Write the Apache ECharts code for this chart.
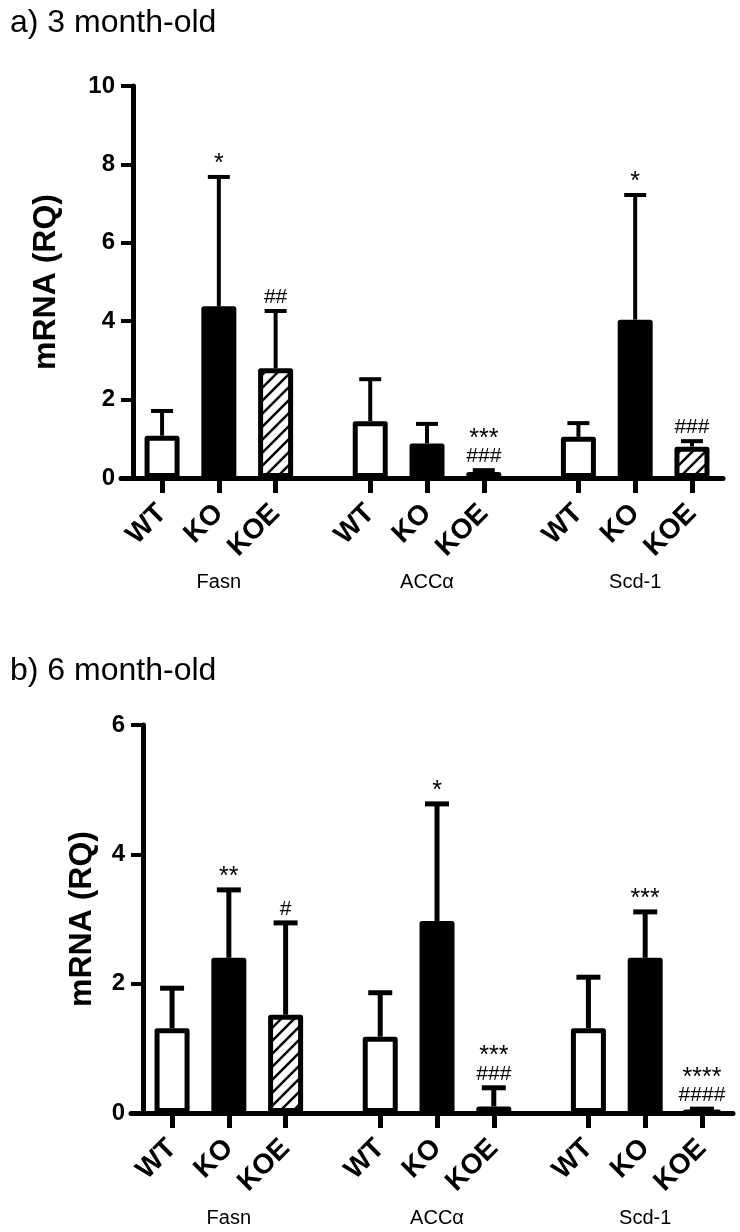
<!DOCTYPE html>
<html><head><meta charset="utf-8">
<script src="https://cdn.jsdelivr.net/npm/echarts@6/dist/echarts.min.js"></script>
<style>html,body{margin:0;padding:0;background:#fff}#c{width:740px;height:1232px}</style>
</head><body><div id="c"></div>
<script>
// ---------- data ----------
const genes = ['Fasn', 'ACCα', 'Scd-1'];
const groups = ['WT', 'KO', 'KOE'];
const titleA = 'a) 3 month-old';
const titleB = 'b) 6 month-old';
const yTitle = 'mRNA (RQ)';

// a) 3 month-old : mean and SD (upper error) per gene
const a_WT_mean  = [1.08, 1.45, 1.05];
const a_WT_sd    = [0.63, 1.07, 0.35];
const a_KO_mean  = [4.38, 0.88, 4.04];
const a_KO_sd    = [3.30, 0.50, 3.18];
const a_KOE_mean = [2.80, 0.15, 0.80];
const a_KOE_sd   = [1.46, 0.05, 0.14];
const a_WT_sig   = ['', '', ''];
const a_KO_sig   = ['*', '', '*'];
const a_KOE_sig  = ['##', '***\n###', '###'];
const a_yTicks   = [0, 2, 4, 6, 8, 10];

// b) 6 month-old
const b_WT_mean  = [1.31, 1.18, 1.31];
const b_WT_sd    = [0.62, 0.68, 0.79];
const b_KO_mean  = [2.40, 2.97, 2.40];
const b_KO_sd    = [1.05, 1.81, 0.71];
const b_KOE_mean = [1.52, 0.10, 0.03];
const b_KOE_sd   = [1.42, 0.29, 0.03];
const b_WT_sig   = ['', '', ''];
const b_KO_sig   = ['**', '*', '***'];
const b_KOE_sig  = ['#', '***\n###', '****\n####'];
const b_yTicks   = [0, 2, 4, 6];

// ---------- layout helpers ----------
const FONT = 'Arial, "Liberation Sans", Helvetica, sans-serif';
const BAR_STEP = 3, GENE_STEP = 11;          // slot units on the x value axis
const pos = (g, i) => g * GENE_STEP + i * BAR_STEP;
const X_MIN = -2.17, X_MAX = 29.64;

const barPositions = [];
const barLabelOf = {};
genes.forEach((_, g) => groups.forEach((grp, i) => { barPositions.push(pos(g, i)); barLabelOf[pos(g, i)] = grp; }));
const genePositions = genes.map((_, g) => pos(g, 1));
const geneLabelOf = {};
genes.forEach((gn, g) => { geneLabelOf[pos(g, 1)] = gn; });

// hatch pattern
const hatch = (() => {
  const s = 13, c = document.createElement('canvas');
  c.width = s; c.height = s;
  const ctx = c.getContext('2d');
  ctx.strokeStyle = '#000'; ctx.lineWidth = 2.5;
  [[-s, s, s, -s], [0, s, s, 0], [0, 2 * s, 2 * s, 0]].forEach(([x1, y1, x2, y2]) => {
    ctx.beginPath(); ctx.moveTo(x1, y1); ctx.lineTo(x2, y2); ctx.stroke();
  });
  return { image: c, repeat: 'repeat' };
})();

const fills = { WT: '#ffffff', KO: '#000000', KOE: hatch };

// significance text -> rich text (stars larger than hashes)
function sigRich(s) {
  return s.split('\n').map(line => (line[0] === '*' ? '{s|' : '{h|') + line + '}').join('\n');
}

function buildPanel(idx, d, opt) {
  const gridIndex = idx;
  const xMain = idx * 2;
  const yMax = d.yTicks[d.yTicks.length - 1];
  const yStep = d.yTicks[1] - d.yTicks[0];
  const xAxes = [
    {
      type: 'value', gridIndex, position: 'bottom', min: X_MIN, max: X_MAX,
      splitLine: { show: false },
      axisLine: { show: true, onZero: false, lineStyle: { color: '#000', width: 5 } },
      axisTick: { show: true, customValues: barPositions, length: 15, lineStyle: { color: '#000', width: 5 } },
      axisLabel: {
        show: true, customValues: barPositions, rotate: 45, margin: 31,
        formatter: v => barLabelOf[Math.round(v)] || '',
        color: '#000', fontFamily: FONT, fontWeight: 'bold', fontSize: 28
      }
    },
    {
      type: 'value', gridIndex, position: 'bottom', min: X_MIN, max: X_MAX,
      splitLine: { show: false }, axisLine: { show: false, onZero: false }, axisTick: { show: false },
      axisLabel: {
        show: true, customValues: genePositions, margin: opt.geneMargin,
        formatter: v => geneLabelOf[Math.round(v)] || '',
        color: '#000', fontFamily: FONT, fontSize: 20
      }
    }
  ];
  const yAxis = {
    type: 'value', gridIndex, min: 0, max: yMax, interval: yStep, offset: -12,
    splitLine: { show: false },
    axisLine: { show: true, onZero: false, lineStyle: { color: '#000', width: 5 } },
    axisTick: { show: true, length: 12, lineStyle: { color: '#000', width: 4 } },
    axisLabel: { color: '#000', fontFamily: FONT, fontWeight: 'bold', fontSize: 24, margin: 18 },
    name: yTitle, nameLocation: 'middle', nameGap: opt.nameGap,
    nameTextStyle: { color: '#000', fontFamily: FONT, fontWeight: 'bold', fontSize: 32 }
  };
  const series = [];
  const sets = [['WT', d.WT_mean, d.WT_sd, d.WT_sig], ['KO', d.KO_mean, d.KO_sd, d.KO_sig], ['KOE', d.KOE_mean, d.KOE_sd, d.KOE_sig]];
  sets.forEach(([grp, mean, sd, sig], i) => {
    series.push({
      type: 'bar', name: grp, xAxisIndex: xMain, yAxisIndex: idx,
      barWidth: 35, barGap: '-100%', animation: false,
      data: mean.map((m, g) => [pos(g, i), m]),
      itemStyle: { color: fills[grp], borderColor: '#000', borderWidth: 5, borderJoin: 'round' },
      z: 2
    });
    series.push({
      type: 'custom', name: grp + ' err', xAxisIndex: xMain, yAxisIndex: idx, animation: false, clip: false,
      data: mean.map((m, g) => [pos(g, i), m, m + sd[g]]),
      z: 3,
      renderItem: (params, api) => {
        const x = api.value(0), m = api.value(1), t = api.value(2);
        const p0 = api.coord([x, m]), p1 = api.coord([x, t]);
        const lw = opt.errW, cw = opt.capW;
        const ch = [
          { type: 'line', shape: { x1: p0[0], y1: p0[1], x2: p1[0], y2: p1[1] }, style: { stroke: '#000', lineWidth: lw } },
          { type: 'line', shape: { x1: p1[0] - cw / 2, y1: p1[1], x2: p1[0] + cw / 2, y2: p1[1] }, style: { stroke: '#000', lineWidth: lw } }
        ];
        const s = sig[params.dataIndex];
        if (s) ch.push({
          type: 'text', x: p1[0], y: p1[1] - 4,
          style: {
            text: sigRich(s), align: 'center', verticalAlign: 'bottom',
            rich: {
              s: { fill: '#000', fontFamily: FONT, fontSize: 25, lineHeight: 17 },
              h: { fill: '#000', fontFamily: FONT, fontSize: 21, lineHeight: 19 }
            }
          }
        });
        return { type: 'group', children: ch };
      }
    });
  });
  return { xAxes, yAxis, series };
}

const A = { WT_mean: a_WT_mean, WT_sd: a_WT_sd, KO_mean: a_KO_mean, KO_sd: a_KO_sd, KOE_mean: a_KOE_mean, KOE_sd: a_KOE_sd,
            WT_sig: a_WT_sig, KO_sig: a_KO_sig, KOE_sig: a_KOE_sig, yTicks: a_yTicks };
const B = { WT_mean: b_WT_mean, WT_sd: b_WT_sd, KO_mean: b_KO_mean, KO_sd: b_KO_sd, KOE_mean: b_KOE_mean, KOE_sd: b_KOE_sd,
            WT_sig: b_WT_sig, KO_sig: b_KO_sig, KOE_sig: b_KOE_sig, yTicks: b_yTicks };

const pa = buildPanel(0, A, { nameGap: 71, errW: 4, capW: 22, geneMargin: 94 });
const pb = buildPanel(1, B, { nameGap: 45, errW: 5, capW: 24, geneMargin: 95 });

const chart = echarts.init(document.getElementById('c'), null, { renderer: 'canvas' });
chart.setOption({
  backgroundColor: '#fff',
  animation: false,
  title: [
    { text: titleA, left: 5, top: 2, textStyle: { color: '#000', fontFamily: FONT, fontWeight: 'normal', fontSize: 32 } },
    { text: titleB, left: 5, top: 650, textStyle: { color: '#000', fontFamily: FONT, fontWeight: 'normal', fontSize: 32 } }
  ],
  grid: [
    { left: 121, right: 17, top: 86, height: 392, containLabel: false },
    { left: 131, right: 7, top: 725, height: 388, containLabel: false }
  ],
  xAxis: [...pa.xAxes, ...pb.xAxes],
  yAxis: [pa.yAxis, pb.yAxis],
  series: [...pa.series, ...pb.series]
});
</script>
</body></html>
